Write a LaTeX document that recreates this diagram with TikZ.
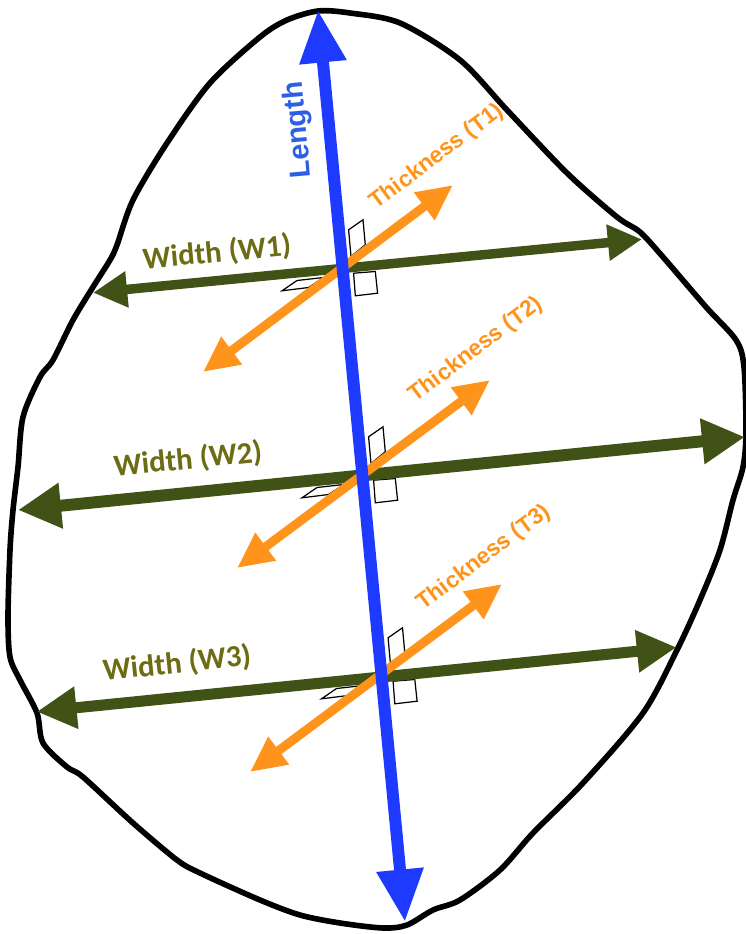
\documentclass[tikz,border=0pt]{standalone}
\usepackage{fontspec}
\newfontfamily\helvfont{Liberation Sans}
\newfontfamily\calfont{Carlito}
\usetikzlibrary{arrows.meta}
\definecolor{lenblue}{RGB}{30,58,255}
\definecolor{lentext}{RGB}{45,95,230}
\definecolor{widgreen}{RGB}{64,82,22}
\definecolor{widtext}{RGB}{108,108,20}
\definecolor{thkorange}{RGB}{255,148,28}

\begin{document}
\begin{tikzpicture}[x=0.02cm, y=-0.02cm,
  outline/.style={line width=3.2pt, line join=round},
  len/.style={draw=lenblue, line width=6.8pt, {Triangle[length=0pt 4.4,width=0pt 3.7]}-{Triangle[length=0pt 4.4,width=0pt 3.7]}},
  wid/.style={draw=widgreen, line width=#1, {Triangle[length=0pt 3.6,width=0pt 3.6]}-{Triangle[length=0pt 3.6,width=0pt 3.6]}},
  thk/.style={draw=thkorange, line width=5.1pt, {Triangle[length=0pt 4,width=0pt 3.6]}-{Triangle[length=0pt 4,width=0pt 3.6]}},
  ra/.style={draw=black, fill=white, line width=0.7pt},
  lenlbl/.style={text=lentext, inner sep=0pt, font=\helvfont\bfseries\fontsize{16.5pt}{16.5pt}\selectfont},
  widlbl/.style={text=widtext, inner sep=0pt, font=\calfont\bfseries\fontsize{17.5pt}{17.5pt}\selectfont},
  thklbl/.style={text=thkorange, inner sep=0pt, rotate=37, font=\helvfont\bfseries\fontsize{13pt}{13pt}\selectfont}]
\useasboundingbox (0,0) rectangle (746,934);
% outline of the stone
\draw[outline] plot[smooth cycle, tension=0.5] coordinates {
  (318,11) (350,13) (400,23) (460,60) (507,110) (567,173) (617,217) (640,232)
  (663,257) (706,307) (736,340) (744,367) (746,433) (743,467) (733,500) (720,550)
  (700,600) (677,650) (643,713) (583,783) (533,833) (500,870) (460,900) (433,910)
  (407,925) (383,928) (340,923) (300,915) (260,900) (200,873) (177,860) (133,823)
  (83,777) (67,767) (43,743) (37,713) (20,680) (10,657) (8,617) (10,550) (13,510)
  (18,467) (23,417) (40,377) (53,360) (73,320) (93,287) (110,260) (117,245)
  (133,200) (167,143) (210,83) (260,37) (287,20)};
% crossing points
\coordinate (c1) at (342,268);
\coordinate (c2) at (362,475);
\coordinate (c3) at (381.5,676);
% right angle marks
\foreach \c in {c1,c2,c3}{
  \draw[ra, shift={(\c)}] (6.6,-38.2) -- (21,-48.2) -- (23.3,-23.2) -- (9,-11.5) -- cycle;
  \draw[ra, shift={(\c)}] (11.6,5.2) -- (33.3,3.5) -- (35.6,25.2) -- (13.3,27.8) -- cycle;
  \draw[ra, shift={(\c)}] (-60,22.8) -- (-45,12.5) -- (-18.4,9.5) -- (-33.4,19.5) -- cycle;
}
% end points
\coordinate (w1a) at (93,292.7);  \coordinate (w1b) at (642,239.3);
\coordinate (w2a) at (18,510);    \coordinate (w2b) at (745,437);
\coordinate (w3a) at (36.7,711.7); \coordinate (w3b) at (676.7,647.3);
\coordinate (t1a) at (203,372);   \coordinate (t1b) at (453,185);
\coordinate (t2a) at (237,568);   \coordinate (t2b) at (490,380);
\coordinate (t3a) at (250,772);   \coordinate (t3b) at (502,584);
\coordinate (la) at (405,922);    \coordinate (lb) at (318,10);
\draw[wid=5.4pt] (w1a) -- (w1b);
\draw[wid=6.8pt] (w2a) -- (w2b);
\draw[wid=6.3pt] (w3a) -- (w3b);
\draw[thk] (t1a) -- (t1b);
\draw[thk] (t2a) -- (t2b);
\draw[thk] (t3a) -- (t3b);
\draw[len] (la) -- (lb);
% labels
\node[lenlbl, rotate=95] (ll) at (299,130) {Length};
\node[widlbl, rotate=5.4] (lw1) at (217,253) {Width (W1)};
\node[widlbl, rotate=5.6] (lw2) at (188,460) {Width (W2)};
\node[widlbl, rotate=5.9] (lw3) at (177,664) {Width (W3)};
\node[thklbl] (lt1) at (437,157) {Thickness (T1)};
\node[thklbl] (lt2) at (476,350) {Thickness (T2)};
\node[thklbl] (lt3) at (484,558) {Thickness (T3)};
\end{tikzpicture}
\end{document}
